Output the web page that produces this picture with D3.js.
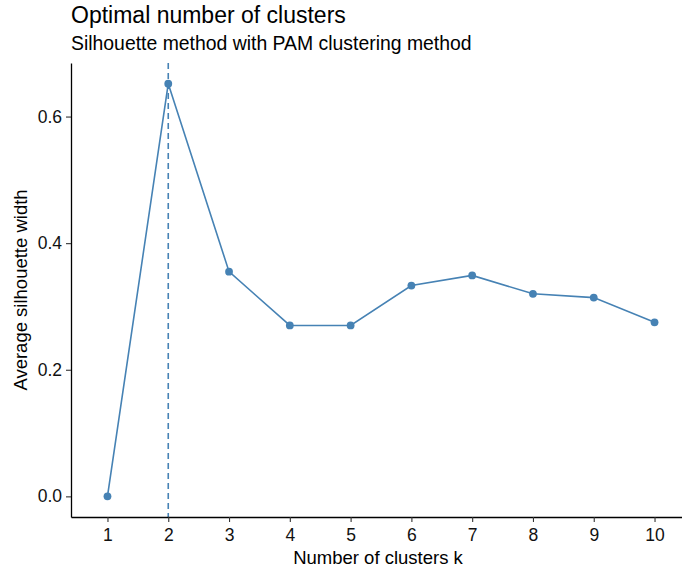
<!DOCTYPE html>
<html>
<head>
<meta charset="utf-8">
<script src="https://cdn.jsdelivr.net/npm/d3@7"></script>
<style>
  body { margin: 0; background: #fff; }
  text { font-family: "Liberation Sans", Arial, sans-serif; }
</style>
</head>
<body>
<svg id="chart" width="682" height="573"></svg>
<script>
// data
const clusters = [1, 2, 3, 4, 5, 6, 7, 8, 9, 10];
const silhouette = [0, 0.652, 0.355, 0.270, 0.270, 0.333, 0.349, 0.320, 0.314, 0.275];
const optimalK = 2;
const yTicks = [0.0, 0.2, 0.4, 0.6];

const lineColor = "steelblue";

const svg = d3.select("#chart");
const plot = {left: 71, right: 691, top: 63, bottom: 517};

// discrete axis with ggplot-like 0.6 expansion each side
let x = d3.scaleLinear().domain([0.4, 10.6]).range([plot.left, plot.right]);
let yMax = d3.max(silhouette), pad = yMax * 0.05;
let y = d3.scaleLinear().domain([-pad, yMax + pad]).range([plot.bottom, plot.top]);

// vertical dashed marker at optimal k
svg.append("line")
    .attr("x1", x(optimalK)).attr("x2", x(optimalK))
    .attr("y1", plot.top).attr("y2", plot.bottom)
    .attr("stroke", lineColor)
    .attr("stroke-width", 1.6)
    .attr("stroke-dasharray", "6,4");

// line + points
let pts = clusters.map((k, i) => ({k: k, v: silhouette[i]}));
let line = d3.line().x(d => x(d.k)).y(d => y(d.v));

svg.append("path")
    .datum(pts)
    .attr("d", line)
    .attr("fill", "none")
    .attr("stroke", lineColor)
    .attr("stroke-width", 1.6);

svg.append("g")
    .selectAll("circle")
    .data(pts)
    .enter()
    .append("circle")
    .attr("cx", d => x(d.k))
    .attr("cy", d => y(d.v))
    .attr("r", 3.9)
    .attr("fill", lineColor);

// axes
let xAxis = svg.append("g")
    .attr("transform", "translate(0," + plot.bottom + ")")
    .call(d3.axisBottom(x).tickValues(clusters).tickFormat(d3.format("d")).tickSizeInner(5).tickSizeOuter(0).tickPadding(7));
let yAxis = svg.append("g")
    .attr("transform", "translate(" + plot.left + ",0)")
    .call(d3.axisLeft(y).tickValues(yTicks).tickFormat(d3.format(".1f")).tickSizeInner(5).tickSizeOuter(0).tickPadding(4));

for (const ax of [xAxis, yAxis]) {
    ax.select(".domain").attr("stroke", "#000").attr("stroke-width", 1.3);
    ax.selectAll(".tick line").attr("stroke", "#333").attr("stroke-width", 1.1);
    ax.selectAll(".tick text").attr("font-size", "17.5px").attr("fill", "#111")
        .attr("font-family", "Liberation Sans, Arial, sans-serif");
}

// titles
svg.append("text")
    .attr("x", 71).attr("y", 23)
    .attr("font-size", "23px")
    .attr("fill", "#000")
    .text("Optimal number of clusters");

svg.append("text")
    .attr("x", 71).attr("y", 50)
    .attr("font-size", "19.4px")
    .attr("fill", "#000")
    .text("Silhouette method with PAM clustering method");

svg.append("text")
    .attr("x", 378).attr("y", 564)
    .attr("text-anchor", "middle")
    .attr("font-size", "18.5px")
    .text("Number of clusters k");

svg.append("text")
    .attr("transform", "translate(27," + (plot.top + plot.bottom) / 2 + ") rotate(-90)")
    .attr("text-anchor", "middle")
    .attr("font-size", "18.5px")
    .text("Average silhouette width");
</script>
</body>
</html>
